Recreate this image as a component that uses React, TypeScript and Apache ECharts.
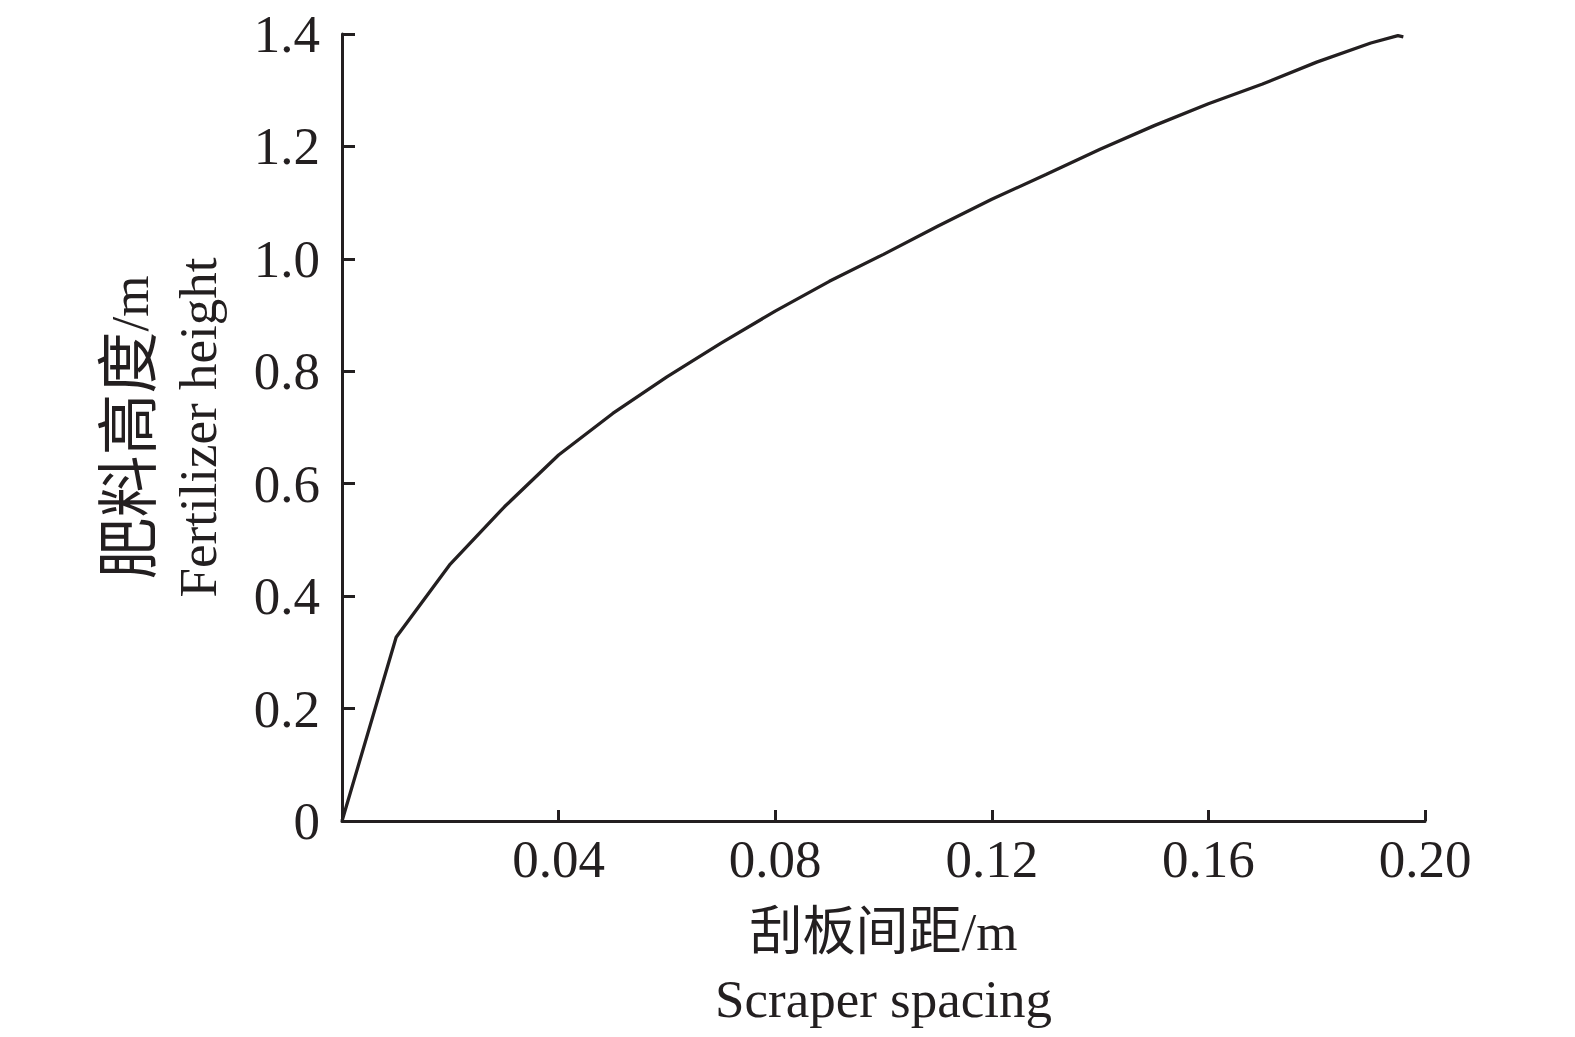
import React, { useEffect, useRef } from "react";
import * as echarts from "echarts";

const spacing = [0, 0.01, 0.02, 0.03, 0.04, 0.05, 0.06, 0.07, 0.08, 0.09, 0.1, 0.11, 0.12, 0.13, 0.14, 0.15, 0.16, 0.17, 0.18, 0.19, 0.195, 0.196];
const height = [0, 0.327, 0.457, 0.559, 0.651, 0.725, 0.79, 0.85, 0.907, 0.96, 1.008, 1.058, 1.106, 1.15, 1.195, 1.237, 1.276, 1.311, 1.35, 1.384, 1.397, 1.395];

const xTitle = "刮板间距/m\nScraper spacing";
const yTitle = "{cn|肥料高度}/m\nFertilizer height";

const FONT = "'Liberation Serif', 'Times New Roman', 'Noto Sans CJK SC', serif";

export default function App() {
  const ref = useRef<HTMLDivElement>(null);
  useEffect(() => {
    document.body.style.margin = "0";
    const chart = echarts.init(ref.current!, null, { renderer: "svg" });
    const axisColor = "#231f20";
    chart.setOption({
      animation: false,
      backgroundColor: "#ffffff",
      grid: { left: 342, right: 150, top: 34, bottom: 216, containLabel: false, outerBoundsMode: "none" },
      xAxis: {
        type: "value",
        min: 0,
        max: 0.2,
        interval: 0.04,
        name: xTitle,
        nameLocation: "middle",
        nameGap: 77,
        nameTextStyle: { fontFamily: FONT, fontSize: 53, color: axisColor, lineHeight: 67 },
        axisLine: { show: true, lineStyle: { color: axisColor, width: 3 } },
        axisTick: { show: true, inside: true, length: 11, lineStyle: { color: axisColor, width: 3 } },
        axisLabel: {
          fontFamily: FONT,
          fontSize: 53,
          color: axisColor,
          margin: 11,
          formatter: (v: number) => (v === 0 ? "" : v.toFixed(2)),
        },
        splitLine: { show: false },
      },
      yAxis: {
        type: "value",
        min: 0,
        max: 1.4,
        interval: 0.2,
        name: yTitle,
        nameLocation: "middle",
        nameGap: 110,
        nameRotate: 90,
        nameTextStyle: {
          fontFamily: FONT,
          fontSize: 53,
          color: axisColor,
          lineHeight: 68,
          rich: {
            cn: { fontFamily: FONT, fontSize: 62, color: axisColor, lineHeight: 68 },
          },
        },
        axisLine: { show: true, lineStyle: { color: axisColor, width: 3 } },
        axisTick: { show: true, inside: true, length: 13, lineStyle: { color: axisColor, width: 3 } },
        axisLabel: {
          fontFamily: FONT,
          fontSize: 53,
          color: axisColor,
          margin: 22,
          formatter: (v: number) => (v === 0 ? "0" : v.toFixed(1)),
        },
        splitLine: { show: false },
      },
      series: [
        {
          type: "line",
          data: spacing.map((x, i) => [x, height[i]]),
          showSymbol: false,
          symbol: "none",
          lineStyle: { color: axisColor, width: 3.3 },
        },
      ],
    });
    return () => chart.dispose();
  }, []);
  return <div ref={ref} style={{ width: 1575, height: 1037 }} />;
}
